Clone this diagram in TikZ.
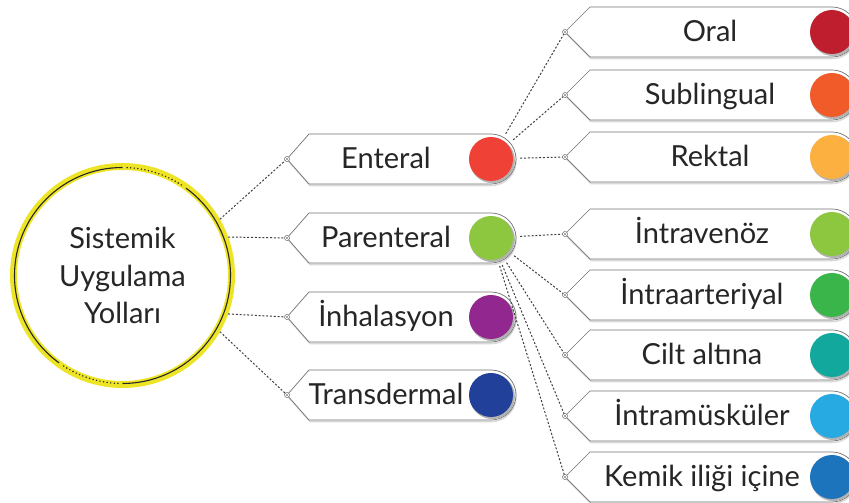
\documentclass[tikz,border=0pt]{standalone}
\usepackage{fontspec}
\setmainfont{Lato}
\usetikzlibrary{calc}

\definecolor{ringyellow}{RGB}{237,228,38}
\definecolor{cRed}{RGB}{239,65,54}
\definecolor{cLime}{RGB}{141,198,63}
\definecolor{cPurple}{RGB}{146,39,143}
\definecolor{cNavy}{RGB}{33,64,154}
\definecolor{cOral}{RGB}{190,30,45}
\definecolor{cSub}{RGB}{241,90,41}
\definecolor{cRektal}{RGB}{251,176,64}
\definecolor{cGreen}{RGB}{57,181,74}
\definecolor{cTeal}{RGB}{19,168,158}
\definecolor{cSky}{RGB}{39,170,225}
\definecolor{cBlue}{RGB}{28,117,188}

\begin{document}
\begin{tikzpicture}[x=1pt,y=1pt]
	\path [use as bounding box] (0,0) rectangle (849,503);
	\clip (0,0) rectangle (849,503);
	\tikzstyle{link} = [draw=black!75, line width=1pt, dash pattern=on 2pt off 1.8pt]
	\tikzstyle{boxline} = [draw=black!55, line width=0.7pt, fill=white]
	\tikzstyle{boxshade} = [draw=black!15, line width=1.6pt]
	\tikzstyle{label} = [font=\fontsize{29}{34}\selectfont, text=black!85, text height=20pt, text depth=0pt, inner sep=0pt]
	\tikzstyle{dot} = [circle, minimum size=44pt, inner sep=0pt]
	\tikzstyle{tipmark} = [circle, draw=black!60, line width=0.5pt, fill=white, minimum size=5pt, inner sep=0pt]
	\tikzstyle{ringline} = [draw=black!85, line width=1.1pt]
	\tikzstyle{ringdots} = [draw=black!85, line width=1.6pt, line cap=round, dash pattern=on 0pt off 3.6pt]
	% hub circle
	\node[circle, draw=ringyellow, line width=7pt, minimum size=218pt, align=center,
		font=\fontsize{29}{37.5}\selectfont, text=black!85] (hub) at (122.5,227.5) {Sistemik\\Uygulama\\Yolları};
	\draw[ringline] ([shift={(90:108)}]hub.center) arc (90:234:108);
	\draw[ringline] ([shift={(270:108)}]hub.center) arc (270:414:108);
	\draw[ringdots] ([shift={(57:108)}]hub.center) arc (57:88:108);
	\draw[ringdots] ([shift={(237:108)}]hub.center) arc (237:268:108);
	% middle column
	\foreach \name/\y/\txt/\col in {enteral/344/Enteral/cRed, parenteral/265/Parenteral/cLime,
		inhalasyon/186/İnhalasyon/cPurple, transdermal/108/Transdermal/cNavy}{
		\coordinate (\name) at (287,\y);
		\draw[boxshade] (288,\y-1.5) -- ++(22,-25) -- (491,\y-26.5) arc (-90:20:25);
		\draw[boxline] (\name) -- ++(22,25) -- (491,\y+25) arc (90:-90:25) -- (309,\y-25) -- cycle;
		\node[label] (\name-label) at (386,\y) {\txt};
		\fill[black!30] (492.3,\y-1.5) circle (22.6);
		\node[dot, fill=\col] (\name-dot) at (491,\y) {};
	}
	% right column
	\foreach \name/\y/\x/\txt/\col in {oral/471/710/Oral/cOral, sublingual/408/710/Sublingual/cSub,
		rektal/346/710/Rektal/cRektal, intravenoz/269/702/İntravenöz/cLime,
		intraarteriyal/208/702/İntraarteriyal/cGreen, ciltaltina/148/702/Cilt altına/cTeal,
		intramuskuler/87/702/İntramüsküler/cSky, kemik/26/702/Kemik iliği içine/cBlue}{
		\coordinate (\name) at (565,\y);
		\draw[boxshade] (566,\y-1.5) -- ++(25,-25) -- (832,\y-26.5) arc (-90:20:25);
		\draw[boxline] (\name) -- ++(25,25) -- (832,\y+25) arc (90:-90:25) -- (590,\y-25) -- cycle;
		\node[label] (\name-label) at (\x,\y) {\txt};
		\fill[black!30] (833.3,\y-1.5) circle (22.6);
		\node[dot, fill=\col] (\name-dot) at (832,\y) {};
	}
	% connectors
	\draw[link] (hub.30) -- (enteral);
	\draw[link] (hub.20) -- (parenteral);
	\draw[link] (hub.-20) -- (inhalasyon);
	\draw[link] (hub.-30) -- (transdermal);
	\foreach \to in {oral, sublingual, rektal}
		\draw[link, shorten <=7pt] (enteral-dot) -- (\to);
	\foreach \to in {intravenoz, intraarteriyal, ciltaltina, intramuskuler, kemik}
		\draw[link, shorten <=7pt] (parenteral-dot) -- (\to);
	% tip marks
	\foreach \name in {enteral, parenteral, inhalasyon, transdermal, oral, sublingual, rektal,
		intravenoz, intraarteriyal, ciltaltina, intramuskuler, kemik}{
		\node[tipmark] (\name-mark) at (\name) {};
		\fill[black!70] (\name) circle (0.9);
	}
\end{tikzpicture}
\end{document}
